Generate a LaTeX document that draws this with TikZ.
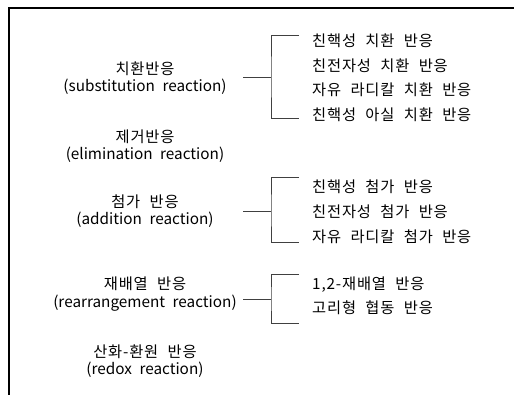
\documentclass[tikz,border=0pt]{standalone}
\usepackage{fontspec}
\setmainfont[WordSpace=2.2]{Noto Sans CJK KR}
\newfontfamily\krfont[WordSpace=2.2,LetterSpace=5.5]{Noto Sans CJK KR}
\begin{document}
\begin{tikzpicture}[x=1pt,y=-1pt,font=\fontsize{15.3}{17.5}\selectfont,
  grp/.style={align=center,inner sep=0pt},
  item/.style={anchor=west,inner sep=0pt,font=\fontsize{15.3}{17.5}\krfont},
  brk/.style={draw=black!75,line width=0.8pt}]
\useasboundingbox (0,0) rectangle (514,395);
\def\LX{145}\def\SX{243}\def\BX{271}\def\EX{299}\def\RX{312}
% marco
\draw[line width=1.3pt] (514,8) -- (9,8) -- (9,395);
% reacciones principales
\node[grp] (sub) at (\LX,78) {{\krfont 치환반응}\\(substitution reaction)};
\node[grp] (eli) at (\LX,146) {{\krfont 제거반응}\\(elimination reaction)};
\node[grp] (add) at (\LX,211) {{\krfont 첨가 반응}\\(addition reaction)};
\node[grp] (rea) at (\LX,294) {{\krfont 재배열 반응}\\(rearrangement reaction)};
\node[grp] (red) at (\LX,361) {{\krfont 산화-환원 반응}\\(redox reaction)};
% subtipos
\node[item] (sub1) at (\RX,41) {친핵성 치환 반응};
\node[item] (sub2) at (\RX,65.5) {친전자성 치환 반응};
\node[item] (sub3) at (\RX,90) {자유 라디칼 치환 반응};
\node[item] (sub4) at (\RX,114.5) {친핵성 아실 치환 반응};
\node[item] (add1) at (\RX,187) {친핵성 첨가 반응};
\node[item] (add2) at (\RX,212) {친전자성 첨가 반응};
\node[item] (add3) at (\RX,237) {자유 라디칼 첨가 반응};
\node[item] (rea1) at (\RX,285) {1,2-재배열 반응};
\node[item] (rea2) at (\RX,308) {고리형 협동 반응};
% llaves
\coordinate (s1) at (\SX,77);  \coordinate (j1) at (\BX,77);
\coordinate (t1) at (\EX,35);  \coordinate (b1) at (\EX,118);
\coordinate (s2) at (\SX,211); \coordinate (j2) at (\BX,211);
\coordinate (t2) at (\EX,177); \coordinate (b2) at (\EX,242);
\coordinate (s3) at (\SX,299); \coordinate (j3) at (\BX,299);
\coordinate (t3) at (\EX,274); \coordinate (b3) at (\EX,323);
\draw[brk] (s1) -- (j1); \draw[brk] (t1) -| (j1) |- (b1);
\draw[brk] (s2) -- (j2); \draw[brk] (t2) -| (j2) |- (b2);
\draw[brk] (s3) -- (j3); \draw[brk] (t3) -| (j3) |- (b3);
\end{tikzpicture}
\end{document}
